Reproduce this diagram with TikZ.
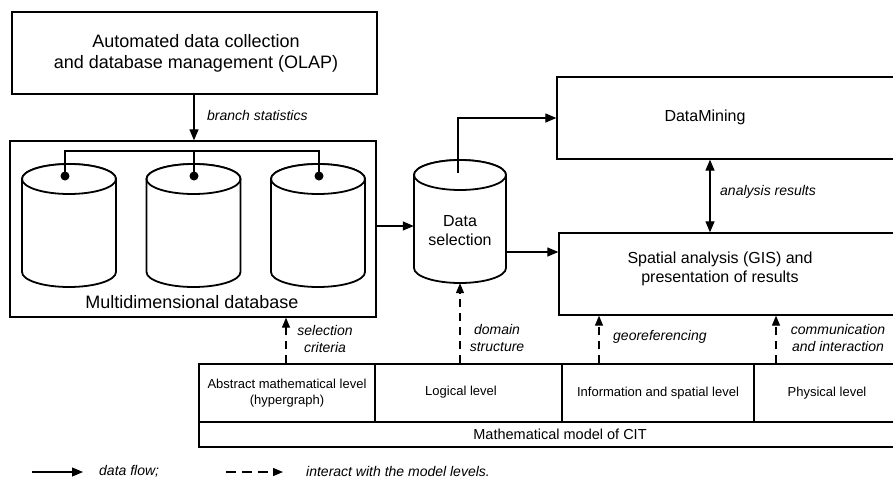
\documentclass[tikz,border=0pt]{standalone}
\usepackage{fontspec}
\setmainfont{Liberation Sans}
\usetikzlibrary{arrows.meta,calc}

% cylinder: centre x, top centre y, bottom centre y, x radius, y radius
\newcommand\drawcyl[5]{%
  \filldraw[cyl] (#1-#4,#2) -- (#1-#4,#3)
    arc[start angle=180,end angle=360,x radius=#4pt,y radius=#5pt]
    -- (#1+#4,#2)
    arc[start angle=0,end angle=180,x radius=#4pt,y radius=#5pt] -- cycle;
  \draw[cyl] (#1,#2) ellipse[x radius=#4pt,y radius=#5pt];
}

\begin{document}
\begin{tikzpicture}[x=1pt,y=-1pt,
  box/.style={draw, line width=1.3pt, inner sep=0pt, fill=white},
  cell/.style={draw, line width=1.3pt, inner sep=0pt, align=center,
    font=\fontsize{13}{16}\selectfont},
  flow/.style={line width=1.2pt, -{Triangle[length=11pt,width=9pt]}},
  biflow/.style={line width=1.2pt, {Triangle[length=11pt,width=9pt]}-{Triangle[length=11pt,width=9pt]}},
  dflow/.style={line width=1.2pt, dash pattern=on 8pt off 6pt,
    -{Triangle[length=10pt,width=8pt]}},
  lbl/.style={font=\fontsize{14}{16.5}\selectfont\itshape, align=center, inner sep=0pt},
  big/.style={font=\fontsize{18}{21}\selectfont, align=center, inner sep=0pt},
  mid/.style={font=\fontsize{16}{18.5}\selectfont, align=center, inner sep=0pt},
  cyl/.style={line width=1.8pt, fill=white},
  dot/.style={circle, fill, inner sep=0pt, minimum size=9pt}]

\fill[white] (0,0) rectangle (893,479);
\useasboundingbox (0,0) rectangle (893,479);

% ---- boxes ----
\node[box, minimum width=365pt, minimum height=82pt] (olap) at (194.5,53) {};
\node[big] at (196,53.5) {Automated data collection\\and database management (OLAP)};

\node[box, minimum width=366pt, minimum height=176pt] (mdb) at (193,229) {};

\node[box, minimum width=343pt, minimum height=82pt] (dm) at (728.5,118) {};
\node[mid] at (705,117) {DataMining};

\node[box, minimum width=341pt, minimum height=82pt] (sp) at (729.5,274) {};
\node[mid] at (720,269) {Spatial analysis (GIS) and\\presentation of results};

% ---- cylinders of the multidimensional database ----
\drawcyl{69}{179}{272}{47}{15}
\drawcyl{193.5}{179}{272}{47}{15}
\drawcyl{318}{179}{272}{47}{15}

\node[dot] (d1) at (65,176) {};
\node[dot] (d2) at (194,176) {};
\node[dot] (d3) at (319,176) {};
\coordinate (bus) at (0,151);
\draw[line width=1.2pt] (d1.center) -- (d1 |- bus) -| (d3.center);
\draw[line width=1.2pt] (d2.center) -- (d2 |- bus);

\node[big] at (192,302) {Multidimensional database};

% ---- data selection cylinder ----
\drawcyl{460}{175}{268}{46}{15}
\node[inner sep=0pt, minimum width=92pt, minimum height=123pt] (dsel) at (460,221.5) {};
\node[mid] at (460,230.5) {Data\\selection};
\coordinate (dstop) at (458,173);

% ---- model table ----
\node[cell, minimum width=176pt, minimum height=58pt] (c1) at (287,393)
  {Abstract mathematical level\\(hypergraph)};
\node[cell, minimum width=187pt, minimum height=58pt] (c2) at (468.5,393) {};
\node[font=\fontsize{13}{16}\selectfont] at (461,392) {Logical level};
\node[cell, minimum width=192pt, minimum height=58pt] (c3) at (658,393)
  {Information and spatial level};
\node[cell, minimum width=146pt, minimum height=58pt] (c4) at (827,393)
  {Physical level};
\node[cell, minimum width=722pt, minimum height=25pt] (row) at (560,434.5)
  {\fontsize{14.5}{17}\selectfont Mathematical model of CIT};

% ---- data flow ----
\draw[flow] (olap.south -| 194,0) -- (mdb.north -| 194,0);
\node[lbl, anchor=west] at (207,115) {branch statistics};

\draw[flow] (mdb.east |- 0,226) -- (dsel.west |- 0,226);
\draw[flow] (dstop) |- (dm.west);
\draw[flow] (dsel.east |- 0,252) -- (sp.west |- 0,252);

\coordinate (ar) at (710,0);
\draw[biflow] (dm.south -| ar) -- (sp.north -| ar);
\node[lbl, anchor=west] at (720,192) {analysis results};

% ---- interaction with the model levels ----
\draw[dflow] (c1.north -| 286,0) -- (mdb.south -| 286,0);
\node[lbl] at (325,339) {selection\\criteria};

\draw[dflow] (dsel.south |- c2.north) -- (dsel.south);
\node[lbl] at (497,338) {domain\\structure};

\draw[dflow] (c3.north -| 599,0) -- (sp.south -| 599,0);
\node[lbl, anchor=west] at (613,337) {georeferencing};

\draw[dflow] (c4.north -| 776,0) -- (sp.south -| 776,0);
\node[lbl] at (838,338) {communication\\and interaction};

% ---- legend ----
\coordinate (fa) at (32,472);
\coordinate (fb) at (83,472);
\draw[flow] (fa) -- (fb);
\node[lbl, anchor=west] at (99,471) {data flow;};

\coordinate (ia) at (226,472);
\coordinate (ib) at (283,472);
\draw[dflow, dash pattern=on 10pt off 6pt] (ia) -- (ib);
\node[lbl, anchor=west] at (306,471) {interact with the model levels.};
\end{tikzpicture}
\end{document}
